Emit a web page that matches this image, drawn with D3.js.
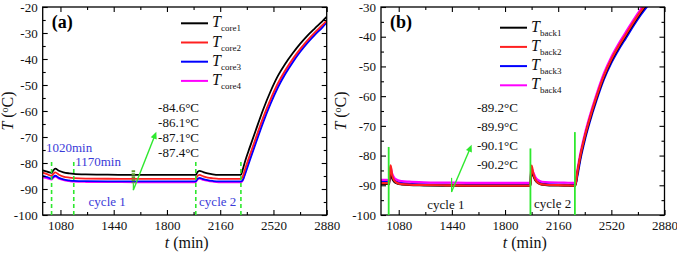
<!DOCTYPE html>
<html><head><meta charset="utf-8">
<script src="https://cdn.jsdelivr.net/npm/d3@7"></script>
<style>
html,body{margin:0;padding:0;background:#fff;}
svg{display:block;}
svg text{font-family:"Liberation Serif","Times New Roman","DejaVu Serif",serif;}
</style></head>
<body>
<svg id="chart" width="677" height="254"></svg>
<script>
// ---------- DATA ----------
const xTicks = [1080, 1440, 1800, 2160, 2520, 2880];
const xMinor = [1260, 1620, 1980, 2340, 2700];
const yTicksA = [-20, -30, -40, -50, -60, -70, -80, -90, -100];
const yTicksB = [-30, -40, -50, -60, -70, -80, -90, -100];

// Panel (a): core temperatures
const timeA = [960, 990, 1020, 1030, 1045, 1070, 1100, 1140, 1170, 1250, 1400, 1600, 1800, 1995, 2005, 2020, 2045, 2075, 2110, 2150, 2200, 2300,
  2310, 2330, 2360, 2400, 2450, 2500, 2550, 2600, 2650, 2700, 2750, 2800, 2850, 2880];
const core1 = [-82.8, -83.3, -83.8, -83.0, -82.2, -83.0, -83.6, -84.0, -84.2, -84.4, -84.5, -84.6, -84.6, -84.6, -83.6, -83.0, -83.5, -84.0, -84.4, -84.6, -84.6, -84.6,
  -83.0, -79.0, -74.0, -67.5, -59.5, -52.5, -46.5, -41.8, -37.8, -34.2, -31.0, -28.2, -25.5, -23.8];
const core2 = [-83.7, -84.3, -84.9, -84.3, -83.6, -84.5, -85.2, -85.6, -85.8, -86.0, -86.05, -86.1, -86.1, -86.1, -85.1, -84.6, -85.1, -85.6, -85.9, -86.1, -86.1, -86.1,
  -85.5, -82.0, -77.0, -70.5, -62.5, -55.5, -49.3, -44.3, -40.0, -36.2, -32.8, -29.8, -27.0, -25.2];
const core3 = [-84.9, -85.4, -86.0, -85.4, -84.9, -85.7, -86.3, -86.7, -86.9, -87.0, -87.05, -87.1, -87.1, -87.1, -86.2, -85.7, -86.2, -86.6, -86.9, -87.1, -87.1, -87.1,
  -86.8, -84.0, -79.0, -72.5, -64.5, -57.3, -51.0, -45.8, -41.3, -37.3, -33.8, -30.7, -27.9, -26.0];
const core4 = [-85.5, -85.9, -86.4, -85.8, -85.2, -86.0, -86.6, -87.0, -87.2, -87.3, -87.35, -87.4, -87.4, -87.4, -86.5, -86.0, -86.5, -86.9, -87.2, -87.4, -87.4, -87.4,
  -87.0, -83.5, -78.3, -71.8, -63.7, -56.5, -50.2, -45.1, -40.7, -36.8, -33.3, -30.3, -27.5, -25.6];

// Panel (b): back temperatures
const timeB = [960, 1000, 1015, 1020, 1025, 1035, 1050, 1070, 1100, 1150, 1250, 1400, 1600, 1800, 1972, 1976, 1980, 1990, 2005, 2025, 2050, 2100, 2200, 2275,
  2290, 2310, 2340, 2370, 2420, 2470, 2520, 2570, 2620, 2670, 2720, 2770, 2820];
const back1 = [-89.5, -89.5, -89.6, -86.5, -85.2, -87.5, -88.8, -89.4, -89.7, -89.9, -90.0, -90.1, -90.2, -90.2, -90.2, -86.8, -85.3, -86.6, -88.3, -89.3, -89.8, -90.0, -90.1, -90.2,
  -86.0, -80.5, -74.0, -68.5, -60.5, -53.5, -48.0, -43.5, -39.5, -35.5, -31.8, -28.5, -25.5];
const back2 = [-89.3, -89.3, -89.4, -85.0, -83.3, -86.5, -88.4, -89.2, -89.6, -89.8, -89.9, -90.0, -90.1, -90.1, -90.1, -85.5, -83.4, -85.8, -88.0, -89.2, -89.7, -89.9, -90.0, -90.1,
  -85.6, -80.1, -73.6, -68.1, -60.1, -53.1, -47.6, -43.1, -39.1, -35.1, -31.4, -28.1, -25.1];
const back3 = [-88.7, -88.7, -88.8, -86.0, -84.6, -86.8, -88.2, -88.9, -89.3, -89.5, -89.7, -89.8, -89.9, -89.9, -89.9, -86.3, -84.8, -86.2, -87.8, -88.9, -89.4, -89.7, -89.8, -89.9,
  -86.8, -81.3, -74.8, -69.3, -61.3, -54.3, -48.8, -44.3, -40.3, -36.3, -32.6, -29.3, -26.3];
const back4 = [-88.2, -88.2, -88.3, -85.5, -84.0, -86.0, -87.5, -88.2, -88.6, -88.8, -89.0, -89.1, -89.2, -89.2, -89.2, -85.8, -84.2, -85.5, -87.2, -88.3, -88.8, -89.0, -89.1, -89.2,
  -84.8, -79.3, -72.8, -67.3, -59.3, -52.3, -46.8, -42.3, -38.3, -34.3, -30.6, -27.3, -24.3];

const legendA = ["core1", "core2", "core3", "core4"];
const legendB = ["back1", "back2", "back3", "back4"];
const noteA = ["-84.6°C", "-86.1°C", "-87.1°C", "-87.4°C"];
const noteB = ["-89.2°C", "-89.9°C", "-90.1°C", "-90.2°C"];
const markA = [1020, 1170, 1995, 2300];   // dashed cycle markers (min)
const markB = [1012, 1972, 2273];         // solid cycle markers (min)
const colors = ["#000000", "#ff2020", "#0000ff", "#ff00ff"];

// ---------- DRAW ----------
const svg = d3.select("#chart");
const GREEN = "#2ee82e";
const fmt = d => String(d);   // plain hyphen-minus as in the reference

function panel(cfg) {
  const g = svg.append("g");
  const x = d3.scaleLinear().domain([960, 2880]).range([cfg.left, cfg.right]);
  const y = d3.scaleLinear().domain(cfg.yDomain).range([cfg.bottom, cfg.top]);
  const clipId = "clip" + cfg.id;
  svg.append("clipPath").attr("id", clipId).append("rect")
    .attr("x", cfg.left).attr("y", cfg.top).attr("width", cfg.right - cfg.left).attr("height", cfg.bottom - cfg.top);

  // series
  const line = d3.line().x((d, i) => x(cfg.time[i])).y(d => y(d)).curve(d3.curveMonotoneX);
  const lg = g.append("g").attr("clip-path", `url(#${clipId})`);
  cfg.order.forEach(k => {
    lg.append("path").datum(cfg.series[k]).attr("d", line)
      .attr("fill", "none").attr("stroke", colors[k]).attr("stroke-width", cfg.lw);
  });

  // axes (ticks inward, mirrored)
  const yMinor = d3.range(cfg.yDomain[0] + 5, cfg.yDomain[1], 10);
  const axB = d3.axisBottom(x).tickValues(xTicks).tickSize(-5).tickPadding(6).tickFormat(fmt);
  const axBm = d3.axisBottom(x).tickValues(xMinor).tickSize(-3).tickFormat("");
  const axT = d3.axisTop(x).tickValues(xTicks).tickSize(-5).tickFormat("");
  const axTm = d3.axisTop(x).tickValues(xMinor).tickSize(-3).tickFormat("");
  const axL = d3.axisLeft(y).tickValues(cfg.yTicks).tickSize(-5).tickPadding(5).tickFormat(fmt);
  const axLm = d3.axisLeft(y).tickValues(yMinor).tickSize(-3).tickFormat("");
  const axR = d3.axisRight(y).tickValues(cfg.yTicks).tickSize(-5).tickFormat("");
  const axRm = d3.axisRight(y).tickValues(yMinor).tickSize(-3).tickFormat("");
  const put = (ax, tx, ty) => {
    const a = g.append("g").attr("transform", `translate(${tx},${ty})`).call(ax);
    a.selectAll("path,line").attr("stroke", "#000").attr("stroke-width", 1.1);
    a.selectAll("text").attr("font-size", 13).attr("fill", "#111");
    a.select(".domain").remove();
    return a;
  };
  put(axB, 0, cfg.bottom); put(axBm, 0, cfg.bottom);
  put(axT, 0, cfg.top); put(axTm, 0, cfg.top);
  put(axL, cfg.left, 0); put(axLm, cfg.left, 0);
  put(axR, cfg.right, 0); put(axRm, cfg.right, 0);
  g.append("rect").attr("x", cfg.left).attr("y", cfg.top).attr("width", cfg.right - cfg.left).attr("height", cfg.bottom - cfg.top)
    .attr("fill", "none").attr("stroke", "#000").attr("stroke-width", 1.3);

  // axis titles
  const xt = g.append("text").attr("x", (cfg.left + cfg.right) / 2 + 2).attr("y", 248)
    .attr("text-anchor", "middle").attr("font-size", 16).attr("fill", "#111");
  xt.append("tspan").attr("font-style", "italic").text("t");
  xt.append("tspan").text(" (min)");
  const yt = g.append("text").attr("transform", `translate(${cfg.left - cfg.yTitleOff},${(cfg.top + cfg.bottom) / 2}) rotate(-90)`)
    .attr("text-anchor", "middle").attr("font-size", 16).attr("fill", "#111");
  yt.append("tspan").attr("font-style", "italic").text("T");
  yt.append("tspan").text(" (");
  yt.append("tspan").attr("font-size", 10).attr("dy", -5).text("o");
  yt.append("tspan").attr("dy", 5).text("C)");

  // panel label
  g.append("text").attr("x", cfg.left + 9).attr("y", 28).attr("font-size", 18).attr("font-weight", "bold").text(cfg.label);

  // legend
  cfg.legend.forEach((name, i) => {
    const ly = cfg.legY + i * 19.2;
    g.append("line").attr("x1", cfg.legX).attr("x2", cfg.legX + 27).attr("y1", ly).attr("y2", ly)
      .attr("stroke", colors[i]).attr("stroke-width", 2);
    const t = g.append("text").attr("x", cfg.legX + 31).attr("y", ly + 4).attr("font-size", 16).attr("fill", "#111");
    t.append("tspan").attr("font-style", "italic").text("T");
    t.append("tspan").attr("font-size", 9).attr("dy", 4).text(name);
  });

  // notes
  cfg.notes.forEach((s, i) => {
    g.append("text").attr("x", x(cfg.noteT)).attr("y", cfg.noteY0 + i * cfg.noteDy)
      .attr("font-size", 13).attr("fill", "#111").text(s);
  });

  return {g, x, y};
}

function arrow(g, x, y, t0, v0, t1, v1) {
  const x0 = x(t0), y0 = y(v0), x1 = x(t1), y1 = y(v1);
  const ang = Math.atan2(y1 - y0, x1 - x0);
  g.append("line").attr("x1", x0).attr("y1", y0).attr("x2", x1 - 4 * Math.cos(ang)).attr("y2", y1 - 4 * Math.sin(ang))
    .attr("stroke", GREEN).attr("stroke-width", 1.4);
  const L = 7, W = 3.2;
  const bx = x1 - L * Math.cos(ang), by = y1 - L * Math.sin(ang);
  const px = -Math.sin(ang) * W, py = Math.cos(ang) * W;
  g.append("path").attr("d", `M${x1},${y1}L${bx + px},${by + py}L${bx - px},${by - py}Z`).attr("fill", GREEN);
}

// Panel (a)
const A = panel({id: "a", left: 42.7, right: 326.7, top: 7, bottom: 215, yDomain: [-100, -20], yTicks: yTicksA,
  time: timeA, series: [core1, core2, core3, core4], order: [3, 2, 1, 0], lw: 1.8, label: "(a)", yTitleOff: 29.5,
  legend: legendA, legX: 181, legY: 23.3, notes: noteA, noteT: 1740, noteY0: 112, noteDy: 15});
markA.forEach(t => {
  A.g.append("line").attr("x1", A.x(t)).attr("x2", A.x(t)).attr("y1", A.y(-100)).attr("y2", A.y(-79.5))
    .attr("stroke", GREEN).attr("stroke-width", 1.6).attr("stroke-dasharray", "4,3");
});
A.g.append("line").attr("x1", A.x(1573)).attr("x2", A.x(1573)).attr("y1", A.y(-82.8)).attr("y2", A.y(-87.8))
  .attr("stroke", "#5aa02a").attr("stroke-width", 3.5).attr("stroke-dasharray", "2,1");
A.g.append("line").attr("x1", A.x(1573)).attr("x2", A.x(1573)).attr("y1", A.y(-87.8)).attr("y2", A.y(-90.5))
  .attr("stroke", GREEN).attr("stroke-width", 1.2);
arrow(A.g, A.x, A.y, 1573, -90.4, 1728, -68);
[["1020min", 982, -75.8], ["1170min", 1180, -81.2]].forEach(([s, t, v]) => {
  A.g.append("text").attr("x", A.x(t)).attr("y", A.y(v)).attr("font-size", 13).attr("fill", "#3a3ad8").text(s);
});
[["cycle 1", 1396], ["cycle 2", 2143]].forEach(([s, t]) => {
  A.g.append("text").attr("x", A.x(t)).attr("y", A.y(-96.4)).attr("text-anchor", "middle")
    .attr("font-size", 13).attr("fill", "#3a3ad8").text(s);
});

// Panel (b)
const B = panel({id: "b", left: 381, right: 664.5, top: 7, bottom: 215, yDomain: [-100, -30], yTicks: yTicksB,
  time: timeB, series: [back1, back2, back3, back4], order: [2, 3, 0, 1], lw: 2.2, label: "(b)", yTitleOff: 35,
  legend: legendB, legX: 500, legY: 27.7, notes: noteB, noteT: 1610, noteY0: 112, noteDy: 19});
[[1012, -77.1], [1972, -77.6], [2273, -72.1]].forEach(([t, top]) => {
  B.g.append("line").attr("x1", B.x(t)).attr("x2", B.x(t)).attr("y1", B.y(-100)).attr("y2", B.y(top))
    .attr("stroke", GREEN).attr("stroke-width", 1.8);
});
B.g.append("line").attr("x1", B.x(1438)).attr("x2", B.x(1438)).attr("y1", B.y(-87.5)).attr("y2", B.y(-92.3))
  .attr("stroke", GREEN).attr("stroke-width", 1.2);
arrow(B.g, B.x, B.y, 1438, -92.2, 1574, -76.4);
[["cycle 1", 1399, -98], ["cycle 2", 2122, -97.8]].forEach(([s, t, v]) => {
  B.g.append("text").attr("x", B.x(t)).attr("y", B.y(v)).attr("text-anchor", "middle")
    .attr("font-size", 13).attr("fill", "#111").text(s);
});
</script>
</body></html>
